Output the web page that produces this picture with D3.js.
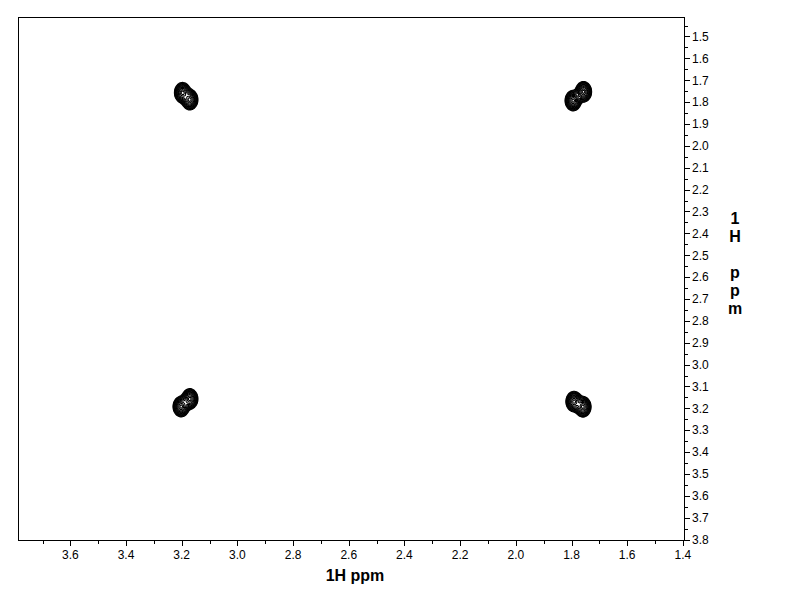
<!DOCTYPE html>
<html><head><meta charset="utf-8">
<script src="https://cdn.jsdelivr.net/npm/d3@7"></script>
<style>
html,body{margin:0;padding:0;background:#fff;}
text{font-family:"Liberation Sans",Arial,sans-serif;fill:#000;}
</style></head>
<body>
<script>
// Cross-peak lobe centres (ppm): F2 (horizontal) and F1 (vertical)
const peakF2 = [3.197, 3.171, 1.794, 1.757, 3.202, 3.171, 1.791, 1.759];
const peakF1 = [1.757, 1.789, 1.793, 1.753, 3.192, 3.157, 3.169, 3.193];
const peakAmp = [1, 1, 1, 1, 1, 1, 1, 1];
const peakWidthF2 = 0.0115; // ppm (gaussian sigma)
const peakWidthF1 = 0.0185;
const xMajorTicks = [3.6, 3.4, 3.2, 3.0, 2.8, 2.6, 2.4, 2.2, 2.0, 1.8, 1.6, 1.4];
const xMinorTicks = [3.7, 3.5, 3.3, 3.1, 2.9, 2.7, 2.5, 2.3, 2.1, 1.9, 1.7, 1.5];
const yMajorTicks = [1.5,1.6,1.7,1.8,1.9,2.0,2.1,2.2,2.3,2.4,2.5,2.6,2.7,2.8,2.9,3.0,3.1,3.2,3.3,3.4,3.5,3.6,3.7,3.8];
const yMinorTicks = yMajorTicks.slice(0,-1).map(v => +(v + 0.05).toFixed(2)).concat([1.45]);
const xTitle = "1H ppm";
const yTitleChars = ["1", "H", " ", "p", "p", "m"];
const contourLevels = [0.04, 0.055, 0.075, 0.1, 0.135, 0.18, 0.24, 0.32, 0.43, 0.57, 0.76, 0.92];

const W = 792, H = 612;
const L = 18, R = 684, T = 17, B = 540;
const svg = d3.select("body").append("svg").attr("width", W).attr("height", H);

const x = d3.scaleLinear().domain([3.788, 1.396]).range([L, R]);
const y = d3.scaleLinear().domain([1.411, 3.802]).range([T, B]);

// contour grid in pixel space
const gw = R - L, gh = B - T;
const grid = new Float64Array(gw * gh);
for (let k = 0; k < peakF2.length; k++) {
  const cx = x(peakF2[k]) - L, cy = y(peakF1[k]) - T;
  const sx = Math.abs(x(peakF2[k] + peakWidthF2) - x(peakF2[k]));
  const sy = Math.abs(y(peakF1[k] + peakWidthF1) - y(peakF1[k]));
  const i0 = Math.max(0, Math.floor(cx - 5 * sx)), i1 = Math.min(gw - 1, Math.ceil(cx + 5 * sx));
  const j0 = Math.max(0, Math.floor(cy - 5 * sy)), j1 = Math.min(gh - 1, Math.ceil(cy + 5 * sy));
  for (let j = j0; j <= j1; j++) for (let i = i0; i <= i1; i++) {
    const dx = (i + 0.5 - cx) / sx, dy = (j + 0.5 - cy) / sy;
    grid[j * gw + i] += peakAmp[k] * Math.exp(-0.5 * (dx * dx + dy * dy));
  }
}
const contours = d3.contours().size([gw, gh]).thresholds(contourLevels)(grid);
svg.append("g").attr("transform", `translate(${L},${T})`)
  .selectAll("path").data(contours).join("path")
  .attr("d", d3.geoPath())
  .attr("fill", "none").attr("stroke", "#000").attr("stroke-width", 1.1);

// frame
svg.append("rect").attr("x", L).attr("y", T).attr("width", R - L).attr("height", B - T)
  .attr("fill", "none").attr("stroke", "#000").attr("stroke-width", 1).attr("shape-rendering", "crispEdges");

// bottom axis
const gx = svg.append("g").attr("shape-rendering", "crispEdges");
gx.selectAll("line.maj").data(xMajorTicks).join("line")
  .attr("x1", d => Math.round(x(d)) + 0.5).attr("x2", d => Math.round(x(d)) + 0.5)
  .attr("y1", B).attr("y2", B + 6).attr("stroke", "#000");
gx.selectAll("line.min").data(xMinorTicks).join("line")
  .attr("x1", d => Math.round(x(d)) + 0.5).attr("x2", d => Math.round(x(d)) + 0.5)
  .attr("y1", B).attr("y2", B + 4).attr("stroke", "#000");
svg.append("g").selectAll("text").data(xMajorTicks).join("text")
  .attr("x", d => x(d)).attr("y", 559).attr("text-anchor", "middle")
  .attr("font-size", 12).text(d => d.toFixed(1));
svg.append("text").attr("x", 355).attr("y", 581).attr("text-anchor", "middle")
  .attr("font-size", 16).attr("font-weight", "bold").text(xTitle);

// right axis
const gy = svg.append("g").attr("shape-rendering", "crispEdges");
gy.selectAll("line.maj").data(yMajorTicks).join("line")
  .attr("y1", d => Math.round(y(d)) + 0.5).attr("y2", d => Math.round(y(d)) + 0.5)
  .attr("x1", R).attr("x2", R + 6).attr("stroke", "#000");
gy.selectAll("line.min").data(yMinorTicks).join("line")
  .attr("y1", d => Math.round(y(d)) + 0.5).attr("y2", d => Math.round(y(d)) + 0.5)
  .attr("x1", R).attr("x2", R + 4).attr("stroke", "#000");
svg.append("g").selectAll("text").data(yMajorTicks).join("text")
  .attr("x", 692).attr("y", d => y(d) + 4.3)
  .attr("font-size", 12).text(d => d.toFixed(1));
svg.append("g").selectAll("text").data(yTitleChars).join("text")
  .attr("x", 735).attr("y", (d, i) => 224 + i * 18).attr("text-anchor", "middle")
  .attr("font-size", 16).attr("font-weight", "bold").text(d => d);
</script>
</body></html>
